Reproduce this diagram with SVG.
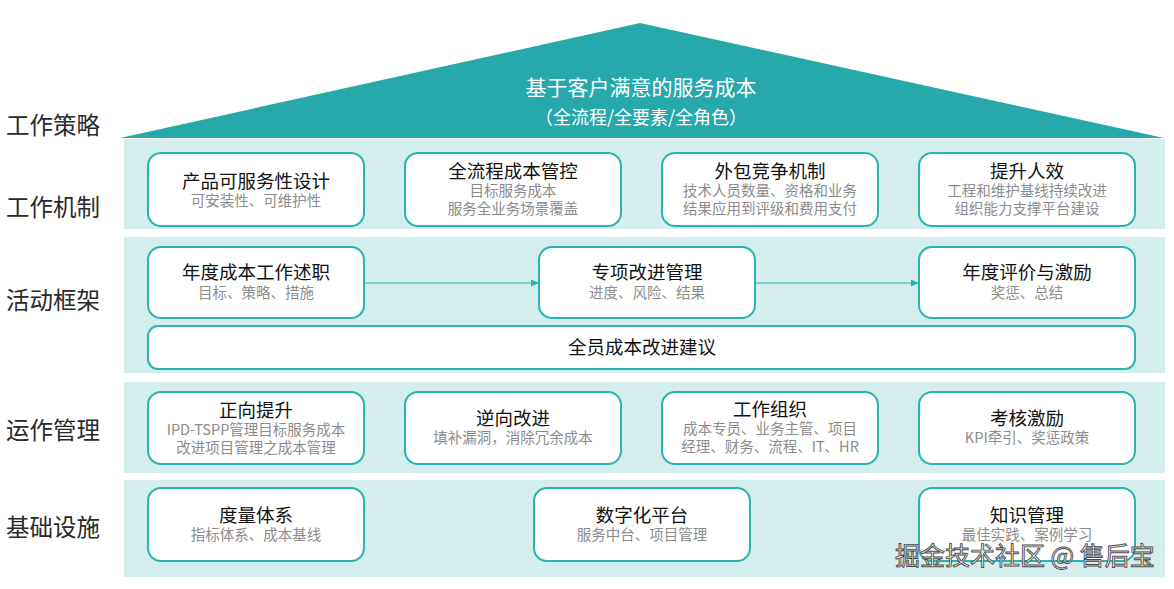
<svg xmlns="http://www.w3.org/2000/svg" width="1174" height="589" viewBox="0 0 1174 589">
<style>
.lbl{font-family:"Noto Sans CJK SC","Noto Sans",sans-serif;font-size:23.5px;fill:#2a2a2a}
.box{fill:#fff;stroke:#2ab3b1;stroke-width:2}
.band{fill:#d4eeed}
.t{font-family:"Noto Sans CJK SC","Noto Sans",sans-serif;font-size:18.5px;fill:#111;text-anchor:middle;dominant-baseline:central}
.s{font-family:"Noto Sans CJK SC","Noto Sans",sans-serif;font-size:14.5px;fill:#8c8c8c;text-anchor:middle;dominant-baseline:central}
.h{font-family:"Noto Sans CJK SC","Noto Sans",sans-serif;fill:#fff;text-anchor:middle;dominant-baseline:central}
.wm{font-family:"Noto Sans CJK SC","Noto Sans",sans-serif;font-size:25px;fill:#f6f6f6;stroke:#4a4a4a;stroke-width:0.9}
</style>
<defs>
<marker id="arr" markerWidth="8" markerHeight="8" refX="7" refY="4" orient="auto" markerUnits="userSpaceOnUse">
<path d="M0,0.5 L8,4 L0,7.5 Z" fill="#2ab3b1"/>
</marker>
</defs>
<rect width="1174" height="589" fill="#fff"/>
<g id="roof">
<polygon points="120,138 640,23 1164,138" fill="#27a9ab"/>
<text class="h" x="641" y="86" font-size="21">基于客户满意的服务成本</text>
<text class="h" x="641" y="116" font-size="18">（全流程/全要素/全角色）</text>
</g>
<g id="bands">
<rect class="band" x="124" y="139" width="1041" height="90"/>
<rect class="band" x="124" y="237" width="1041" height="136"/>
<rect class="band" x="124" y="382" width="1041" height="91"/>
<rect class="band" x="124" y="480" width="1041" height="97"/>
</g>
<g id="labels">
<text class="lbl" x="6" y="134">工作策略</text>
<text class="lbl" x="6" y="216">工作机制</text>
<text class="lbl" x="6" y="309">活动框架</text>
<text class="lbl" x="6" y="439">运作管理</text>
<text class="lbl" x="6" y="536">基础设施</text>
</g>
<g id="connectors">
<line x1="365" y1="283" x2="538" y2="283" stroke="#2ab3b1" stroke-width="1.2" marker-end="url(#arr)"/>
<line x1="756" y1="283" x2="918" y2="283" stroke="#2ab3b1" stroke-width="1.2" marker-end="url(#arr)"/>
</g>
<g id="n1"><rect class="box" x="148" y="153" width="216" height="73" rx="13"/>
<text class="t" x="256" y="180">产品可服务性设计</text><text class="s" x="256" y="199">可安装性、可维护性</text></g>
<g id="n2"><rect class="box" x="405" y="153" width="216" height="73" rx="13"/>
<text class="t" x="513" y="170">全流程成本管控</text><text class="s" x="513" y="189">目标服务成本</text><text class="s" x="513" y="207">服务全业务场景覆盖</text></g>
<g id="n3"><rect class="box" x="662" y="153" width="216" height="73" rx="13"/>
<text class="t" x="770" y="170">外包竞争机制</text><text class="s" x="770" y="189">技术人员数量、资格和业务</text><text class="s" x="770" y="207">结果应用到评级和费用支付</text></g>
<g id="n4"><rect class="box" x="919" y="153" width="216" height="73" rx="13"/>
<text class="t" x="1027" y="170">提升人效</text><text class="s" x="1027" y="189">工程和维护基线持续改进</text><text class="s" x="1027" y="207">组织能力支撑平台建设</text></g>
<g id="n5"><rect class="box" x="148" y="247" width="216" height="71" rx="13"/>
<text class="t" x="256" y="271">年度成本工作述职</text><text class="s" x="256" y="291">目标、策略、措施</text></g>
<g id="n6"><rect class="box" x="539" y="247" width="216" height="71" rx="13"/>
<text class="t" x="647" y="271">专项改进管理</text><text class="s" x="647" y="291">进度、风险、结果</text></g>
<g id="n7"><rect class="box" x="919" y="247" width="216" height="71" rx="13"/>
<text class="t" x="1027" y="271">年度评价与激励</text><text class="s" x="1027" y="291">奖惩、总结</text></g>
<g id="n8"><rect class="box" x="148" y="326" width="987" height="43" rx="10"/>
<text class="t" x="642" y="346">全员成本改进建议</text></g>
<g id="n9"><rect class="box" x="148" y="392" width="216" height="72" rx="13"/>
<text class="t" x="256" y="409">正向提升</text><text class="s" x="256" y="428">IPD-TSPP管理目标服务成本</text><text class="s" x="256" y="446">改进项目管理之成本管理</text></g>
<g id="n10"><rect class="box" x="405" y="392" width="216" height="72" rx="13"/>
<text class="t" x="513" y="417">逆向改进</text><text class="s" x="513" y="436">填补漏洞，消除冗余成本</text></g>
<g id="n11"><rect class="box" x="662" y="392" width="216" height="72" rx="13"/>
<text class="t" x="770" y="408">工作组织</text><text class="s" x="770" y="427">成本专员、业务主管、项目</text><text class="s" x="770" y="445">经理、财务、流程、IT、HR</text></g>
<g id="n12"><rect class="box" x="919" y="392" width="216" height="72" rx="13"/>
<text class="t" x="1027" y="417">考核激励</text><text class="s" x="1027" y="436">KPI牵引、奖惩政策</text></g>
<g id="n13"><rect class="box" x="148" y="488" width="216" height="73" rx="13"/>
<text class="t" x="256" y="514">度量体系</text><text class="s" x="256" y="533">指标体系、成本基线</text></g>
<g id="n14"><rect class="box" x="534" y="488" width="216" height="73" rx="13"/>
<text class="t" x="642" y="514">数字化平台</text><text class="s" x="642" y="533">服务中台、项目管理</text></g>
<g id="n15"><rect class="box" x="919" y="488" width="216" height="73" rx="13"/>
<text class="t" x="1027" y="514">知识管理</text><text class="s" x="1027" y="533">最佳实践、案例学习</text></g>
<text class="wm" x="895" y="565">掘金技术社区 @ 售后宝</text>
</svg>
